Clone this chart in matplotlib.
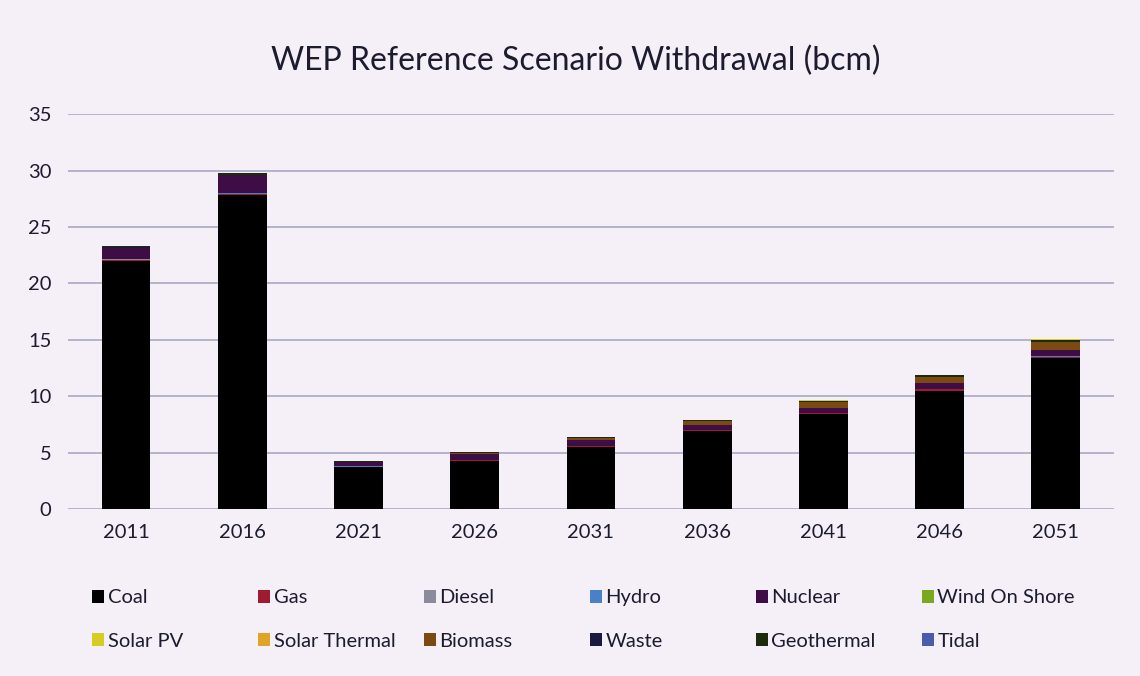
import numpy as np
import matplotlib.pyplot as plt

plt.rcParams['font.family'] = ['Lato', 'DejaVu Sans']

# Data (bcm)
years = ['2011', '2016', '2021', '2026', '2031', '2036', '2041', '2046', '2051']
coal = [22.0, 27.8, 3.7, 4.3, 5.5, 6.9, 8.4, 10.5, 13.4]
gas = [0.12, 0.15, 0.05, 0.06, 0.08, 0.1, 0.1, 0.1, 0.1]
diesel = [0.02, 0.02, 0.01, 0.01, 0.01, 0.01, 0.01, 0.01, 0.01]
hydro = [0.03, 0.03, 0.02, 0.02, 0.02, 0.02, 0.02, 0.02, 0.02]
nuclear = [1.0, 1.6, 0.35, 0.5, 0.5, 0.45, 0.45, 0.5, 0.55]
wind = [0.0, 0.0, 0.0, 0.0, 0.0, 0.0, 0.0, 0.0, 0.0]
solar_pv = [0.05, 0.05, 0.03, 0.03, 0.03, 0.04, 0.04, 0.05, 0.05]
solar_thermal = [0.0, 0.0, 0.0, 0.0, 0.0, 0.0, 0.0, 0.0, 0.0]
biomass = [0.0, 0.0, 0.05, 0.1, 0.2, 0.3, 0.5, 0.55, 0.7]
waste = [0.02, 0.02, 0.01, 0.01, 0.01, 0.01, 0.02, 0.02, 0.02]
geothermal = [0.1, 0.15, 0.05, 0.05, 0.08, 0.1, 0.12, 0.15, 0.18]
tidal = [0.0, 0.0, 0.0, 0.0, 0.0, 0.0, 0.0, 0.0, 0.0]

names = ['Coal', 'Gas', 'Diesel', 'Hydro', 'Nuclear', 'Wind On Shore',
         'Solar PV', 'Solar Thermal', 'Biomass', 'Waste', 'Geothermal', 'Tidal']
series = [coal, gas, diesel, hydro, nuclear, wind,
          solar_pv, solar_thermal, biomass, waste, geothermal, tidal]
colors = ['#000000', '#9e1b32', '#8a8a9c', '#4a80c8', '#3e0d45', '#7aa81e',
          '#d6cc22', '#e0a428', '#7a4a12', '#1a1a40', '#1e2a0c', '#4a5cae']

# stacking order in the bars (bottom to top)
stack_order = [0, 1, 2, 3, 4, 5, 9, 7, 8, 10, 6, 11]

bg = '#f5eff8'
txt = '#1c1c2e'

fig = plt.figure(figsize=(11.4, 6.76), dpi=100, facecolor=bg)
ax = fig.add_axes([0.0596, 0.247, 0.9175, 0.584], facecolor=bg)

x = np.arange(len(years))
bottom = np.zeros(len(years))
handles = {}
for i in stack_order:
    vals = np.array(series[i])
    h = ax.bar(x, vals, 0.42, bottom=bottom, color=colors[i], linewidth=0)
    handles[i] = h
    bottom += vals

ax.set_ylim(0, 35)
ax.set_xlim(-0.5, len(years) - 0.5)
ax.set_yticks(np.arange(0, 36, 5))
ax.yaxis.grid(True, color='#a9a9c4', linewidth=1.2)
ax.set_axisbelow(True)
for s in ax.spines.values():
    s.set_visible(False)
ax.set_xticks(x)
ax.set_xticklabels(years)
ax.tick_params(axis='both', length=0, labelsize=14.5, colors=txt)
ax.tick_params(axis='x', pad=11)
ax.tick_params(axis='y', pad=12)

fig.text(0.505, 0.91, 'WEP Reference Scenario Withdrawal (bcm)',
         ha='center', va='center', fontsize=23, color=txt)

# legend: 6 columns, 2 rows, evenly spaced
for c in range(6):
    idx = [c, c + 6]
    leg = fig.legend([handles[i] for i in idx], [names[i] for i in idx],
                     loc='upper left', bbox_to_anchor=(0.074 + c * 0.1456, 0.14),
                     ncol=1, frameon=False, fontsize=14.5, handlelength=0.6,
                     handleheight=0.6, handletextpad=0.15, labelspacing=1.3,
                     borderaxespad=0)
    for t in leg.get_texts():
        t.set_color(txt)

fig.savefig('out.png', dpi=100, facecolor=bg)
